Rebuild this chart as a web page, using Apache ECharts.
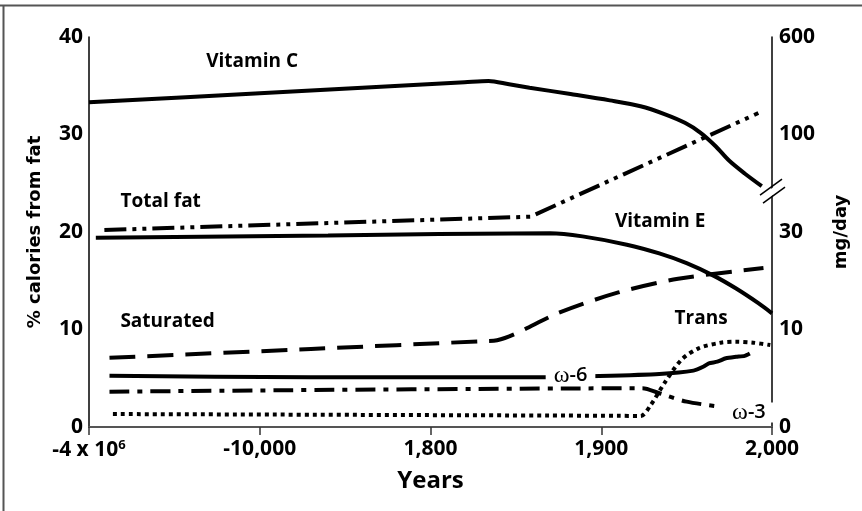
<!DOCTYPE html>
<html>
<head>
<meta charset="utf-8">
<script src="https://cdn.jsdelivr.net/npm/echarts@6/dist/echarts.min.js"></script>
<style>
  html, body { margin: 0; padding: 0; background: #fff; }
  #chart { width: 862px; height: 511px; }
</style>
</head>
<body>
<div id="chart"></div>
<script>
// x is in axis steps: 0 = -4 x 10^6, 1 = -10,000, 2 = 1,800, 3 = 1,900, 4 = 2,000
const xTickLabels = ['-4 x 10{sup|6}', '-10,000', '1,800', '1,900', '2,000'];
// right axis (mg/day) is a broken scale, ticks line up with the left ones
const rightTickLabels = ['0', '10', '30', '100', '600'];

const vitaminC = [[0, 33.3], [1.0, 34.24], [2.2, 35.37], [2.34, 35.5], [2.46, 35.15], [2.58, 34.8],
  [2.82, 34.15], [3.05, 33.5], [3.23, 32.9], [3.37, 32.1], [3.49, 31.2], [3.58, 30.2], [3.67, 28.8],
  [3.75, 27.3], [3.84, 26.0], [3.94, 24.7]];
const totalFat = [[0.09, 20.2], [2.585, 21.57], [3.92, 32.2]];
const vitaminE = [[0.04, 19.4], [1.4, 19.65], [2.70, 19.87], [2.89, 19.55], [3.15, 18.7], [3.34, 17.8],
  [3.50, 16.8], [3.66, 15.5], [3.79, 14.2], [3.92, 12.7], [4.0, 11.66]];
const saturated = [[0.12, 7.1], [1.3, 8.0], [2.3, 8.8], [2.39, 8.9], [2.75, 11.7], [3.1, 13.8],
  [3.45, 15.2], [3.95, 16.3]];
const omega6 = [[0.12, 5.26], [1.3, 5.1], [2.65, 5.1], [2.99, 5.23], [3.34, 5.44], [3.54, 5.78],
  [3.60, 6.2], [3.63, 6.53], [3.68, 6.7], [3.73, 7.05], [3.79, 7.2], [3.84, 7.3], [3.87, 7.55]];
const omega3 = [[0.12, 3.62], [3.24, 3.97], [3.34, 3.46], [3.50, 2.6], [3.70, 2.08]];
const trans = [[0.14, 1.33], [3.1, 1.15], [3.23, 1.13], [3.29, 2.26], [3.37, 4.5], [3.47, 6.9],
  [3.57, 8.07], [3.70, 8.65], [3.79, 8.75], [3.89, 8.65], [3.99, 8.4]];

// series names and where their labels sit (data units)
const seriesLabels = [
  { name: 'Vitamin C', value: [0.955, 37.5] },
  { name: 'Total fat', value: [0.42, 23.1] },
  { name: 'Vitamin E', value: [3.345, 21.1] },
  { name: 'Saturated', value: [0.46, 10.8] },
  { name: 'Trans', value: [3.585, 11.1] }
];
const omegaLabels = [
  { name: '6', value: [2.82, 5.3] },
  { name: '3', value: [3.865, 1.5] }
];

const chart = echarts.init(document.getElementById('chart'));
const sans = '"Open Sans", sans-serif';
const wide = '"DejaVu Sans", sans-serif';

function line(name, data, type, smooth) {
  return {
    name: name,
    type: 'line',
    data: data,
    symbol: 'none',
    smooth: smooth || false,
    lineStyle: { color: '#000', width: 4, type: type, cap: 'butt' },
    z: 3
  };
}

chart.setOption({
  animation: false,
  grid: { left: 89, right: 90, top: 37, bottom: 84 },
  xAxis: {
    type: 'value', min: 0, max: 4, interval: 1,
    name: 'Years', nameLocation: 'middle', nameGap: 42,
    nameTextStyle: { fontFamily: sans, fontWeight: 'bold', fontSize: 24, color: '#000' },
    axisLine: { lineStyle: { color: '#555', width: 2 } },
    axisTick: { length: 8, lineStyle: { color: '#333', width: 1.5 } },
    splitLine: { show: false },
    axisLabel: {
      margin: 12, color: '#000', fontFamily: sans, fontWeight: 'bold', fontSize: 21,
      formatter: v => xTickLabels[v],
      rich: { sup: { fontFamily: sans, fontWeight: 'bold', fontSize: 13, padding: [0, 0, 9, 0], color: '#000' } }
    }
  },
  yAxis: [{
    type: 'value', min: 0, max: 40, interval: 10,
    name: '% calories from fat', nameLocation: 'middle', nameGap: 45, nameRotate: 90,
    nameTextStyle: { fontFamily: wide, fontWeight: 'bold', fontSize: 18, color: '#000' },
    axisLine: { show: true, lineStyle: { color: '#000', width: 1.5 } },
    axisTick: { show: false },
    splitLine: { show: false },
    axisLabel: { margin: 6, color: '#000', fontFamily: sans, fontWeight: 'bold', fontSize: 21 }
  }, {
    type: 'value', min: 0, max: 40, interval: 10, position: 'right',
    name: 'mg/day', nameLocation: 'middle', nameGap: 60, nameRotate: 90,
    nameTextStyle: { fontFamily: wide, fontWeight: 'bold', fontSize: 18, color: '#000' },
    axisLine: { show: true, lineStyle: { color: '#000', width: 1.5 } },
    axisTick: { show: false },
    splitLine: { show: false },
    axisLabel: {
      margin: 7, color: '#000', fontFamily: sans, fontWeight: 'bold', fontSize: 21,
      formatter: v => rightTickLabels[v / 10]
    }
  }],
  series: [
    line('Vitamin C', vitaminC, 'solid', 0.3),
    line('Total fat', totalFat, [22, 6, 4, 6, 4, 6]),
    line('Vitamin E', vitaminE, 'solid', 0.3),
    line('Saturated', saturated, [26, 12], 0.3),
    line('ω-6', omega6, 'solid', 0.2),
    line('ω-3', omega3, [20, 8, 5, 8], 0.3),
    line('Trans', trans, [4, 4], 0.3),
    {
      type: 'scatter', data: seriesLabels, symbolSize: 0, z: 5, silent: true,
      itemStyle: { opacity: 1 },
      label: {
        show: true, position: 'inside', formatter: '{b}',
        color: '#000', textBorderWidth: 0, fontFamily: sans, fontWeight: 'bold', fontSize: 19
      }
    },
    {
      type: 'scatter', data: omegaLabels, symbolSize: 0, z: 6, silent: true,
      itemStyle: { opacity: 1 },
      label: {
        show: true, position: 'inside', formatter: '{w|ω}{n|-{b}}',
        color: '#000', textBorderWidth: 0,
        backgroundColor: '#fff', padding: [0, 8],
        rich: {
          w: { fontFamily: '"Liberation Serif", serif', fontSize: 24, lineHeight: 20, color: '#000', textBorderWidth: 0 },
          n: { fontFamily: sans, fontWeight: 600, fontSize: 20, lineHeight: 20, color: '#000', textBorderWidth: 0 }
        }
      }
    }
  ]
});

// axis break on the right axis plus the frame on the top/left edges
const brk = chart.convertToPixel({ yAxisIndex: 1 }, 24.2);
const bx = chart.convertToPixel({ xAxisIndex: 0 }, 4);
chart.setOption({
  graphic: [
    { type: 'polygon', shape: { points: [[bx - 12, brk + 6], [bx + 10, brk - 10], [bx + 12, brk - 4], [bx - 10, brk + 12]] },
      style: { fill: '#fff' }, z: 10 },
    { type: 'line', shape: { x1: bx - 12, y1: brk + 4, x2: bx + 10, y2: brk - 12 }, style: { stroke: '#000', lineWidth: 1.5 }, z: 11 },
    { type: 'line', shape: { x1: bx - 9, y1: brk + 12, x2: bx + 13, y2: brk - 4 }, style: { stroke: '#000', lineWidth: 1.5 }, z: 11 },
    { type: 'line', shape: { x1: 0, y1: 5.5, x2: 862, y2: 5.5 }, style: { stroke: '#555', lineWidth: 2 } },
    { type: 'line', shape: { x1: 3.5, y1: 5, x2: 3.5, y2: 511 }, style: { stroke: '#555', lineWidth: 2 } }
  ]
});
</script>
</body>
</html>
